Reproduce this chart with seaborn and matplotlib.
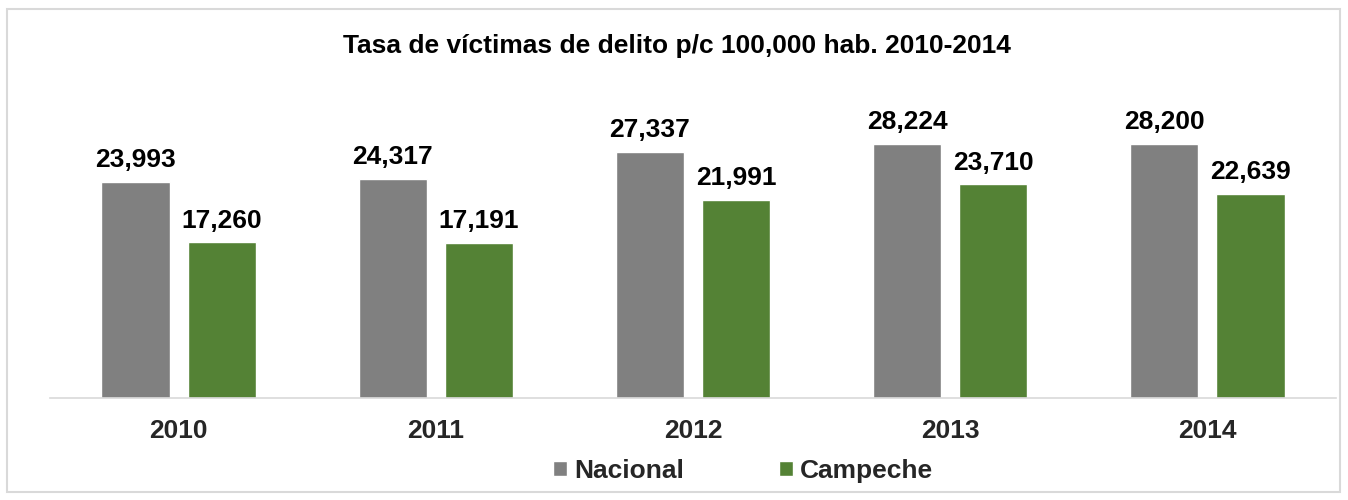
"""Tasa de víctimas de delito p/c 100,000 hab. 2010-2014 - Nacional vs Campeche."""
import matplotlib
matplotlib.use("Agg")
import matplotlib.pyplot as plt
from matplotlib.patches import Rectangle
import seaborn as sns
import pandas as pd

years = ["2010", "2011", "2012", "2013", "2014"]
nacional = [23993, 24317, 27337, 28224, 28200]
campeche = [17260, 17191, 21991, 23710, 22639]
series_names = ["Nacional", "Campeche"]
colors = ["#808080", "#548235"]
title = "Tasa de víctimas de delito p/c 100,000 hab. 2010-2014"

OUTPUT_PATH = "out.png"


def build():
    df = pd.DataFrame({
        "year": years * 2,
        "value": nacional + campeche,
        "serie": [series_names[0]] * len(years) + [series_names[1]] * len(years),
    })

    sns.set_theme(style="white")
    plt.rcParams["font.family"] = ["Liberation Sans", "DejaVu Sans"]

    fig = plt.figure(figsize=(13.48, 5.0), dpi=100)
    ax = fig.add_axes([50 / 1348, 1 - 398 / 500, 1286 / 1348, 338 / 500])

    sns.barplot(
        data=df, x="year", y="value", hue="serie",
        palette=colors, width=0.67, gap=0.21,
        saturation=1, ax=ax,
    )

    for cont in ax.containers:
        ax.bar_label(cont, labels=[f"{v:,.0f}" for v in cont.datavalues],
                     padding=7, fontsize=19, fontweight="bold", color="black")

    ax.set_ylim(0, 37500)
    ax.set_xlim(-0.5, len(years) - 0.5)
    ax.set_xlabel("")
    ax.set_ylabel("")
    ax.set_yticks([])
    ax.tick_params(axis="x", length=0, pad=15, labelsize=19)
    for lbl in ax.get_xticklabels():
        lbl.set_fontweight("bold")
    for side in ["top", "left", "right"]:
        ax.spines[side].set_visible(False)
    ax.spines["bottom"].set_color("#d9d9d9")
    ax.spines["bottom"].set_linewidth(1.2)

    handles, labels = ax.get_legend_handles_labels()
    ax.legend(handles, labels, loc="center", bbox_to_anchor=(743 / 1348, 1 - 471 / 500),
              bbox_transform=fig.transFigure, ncol=2, frameon=False,
              prop={"size": 19, "weight": "bold"},
              handlelength=0.53, handleheight=0.53, handletextpad=0.27,
              columnspacing=3.6)

    fig.text(677 / 1348, 1 - 46 / 500, title, ha="center", va="center",
             fontsize=19, fontweight="bold", color="black")

    fig.patches.append(Rectangle((7 / 1348, 8 / 500), 1333 / 1348, 483 / 500,
                                 transform=fig.transFigure, fill=False,
                                 edgecolor="#d9d9d9", linewidth=1.5))

    fig.savefig(OUTPUT_PATH, dpi=100)
    plt.close(fig)


if __name__ == "__main__":
    build()
